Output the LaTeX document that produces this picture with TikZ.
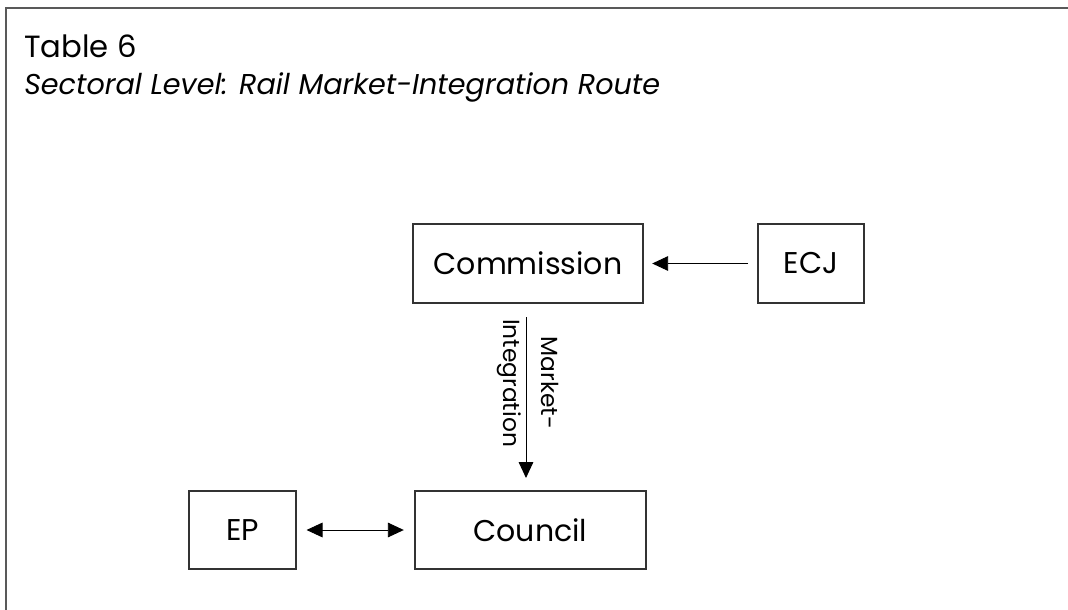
\documentclass[tikz,border=0pt]{standalone}
\usepackage{fontspec}
\setmainfont{Poppins}
\usetikzlibrary{arrows.meta}
\begin{document}
\begin{tikzpicture}[x=0.75pt,y=-0.75pt,
  frame/.style={draw=black!65,line width=1.2pt},
  box/.style={draw=black!80,line width=0.8pt,inner sep=0pt,font=\fontsize{22.5}{26}\selectfont},
  conn/.style={draw=black,line width=0.7pt,-{Triangle[length=12pt,width=11pt]}},
  dconn/.style={draw=black,line width=0.7pt,{Triangle[length=12pt,width=11pt]}-{Triangle[length=12pt,width=11pt]}},
  lbl/.style={font=\fontsize{17.5}{29}\selectfont,align=center,inner sep=0pt}]
\useasboundingbox (0,0) rectangle (1068,610);
\draw[frame] (6,610) -- (6,8) -- (1068,8);
\node[anchor=base west,inner sep=0pt,font=\fontsize{23}{26}\selectfont] (title) at (24,58) {Table 6};
\node[anchor=base west,inner sep=0pt,font=\fontsize{21.5}{26}\selectfont\itshape] (subtitle) at (24,95) {Sectoral Level: Rail Market-Integration Route};
\node[box,minimum width=230*0.75pt,minimum height=79*0.75pt] (comm) at (528,263.5) {Commission};
\node[box,minimum width=106*0.75pt,minimum height=79*0.75pt] (ecj) at (811,263.5) {ECJ};
\node[box,minimum width=231*0.75pt,minimum height=78*0.75pt] (council) at (530.5,530) {Council};
\node[box,minimum width=107*0.75pt,minimum height=78*0.75pt] (ep) at (242.5,530) {EP};
\coordinate (vtop) at (526,303);
\coordinate (vbot) at (526,491);
\draw[conn,shorten <=10.5pt,shorten >=9.75pt] (vtop) -- (vbot);
\node[lbl,rotate=-90] (mi) at (528,383) {Market-\\Integration};
\draw[conn,shorten <=7pt,shorten >=6.5pt] (ecj.west) -- (comm.east);
\draw[dconn,shorten <=7.5pt,shorten >=8pt] (ep.east) -- (council.west);
\end{tikzpicture}
\end{document}
